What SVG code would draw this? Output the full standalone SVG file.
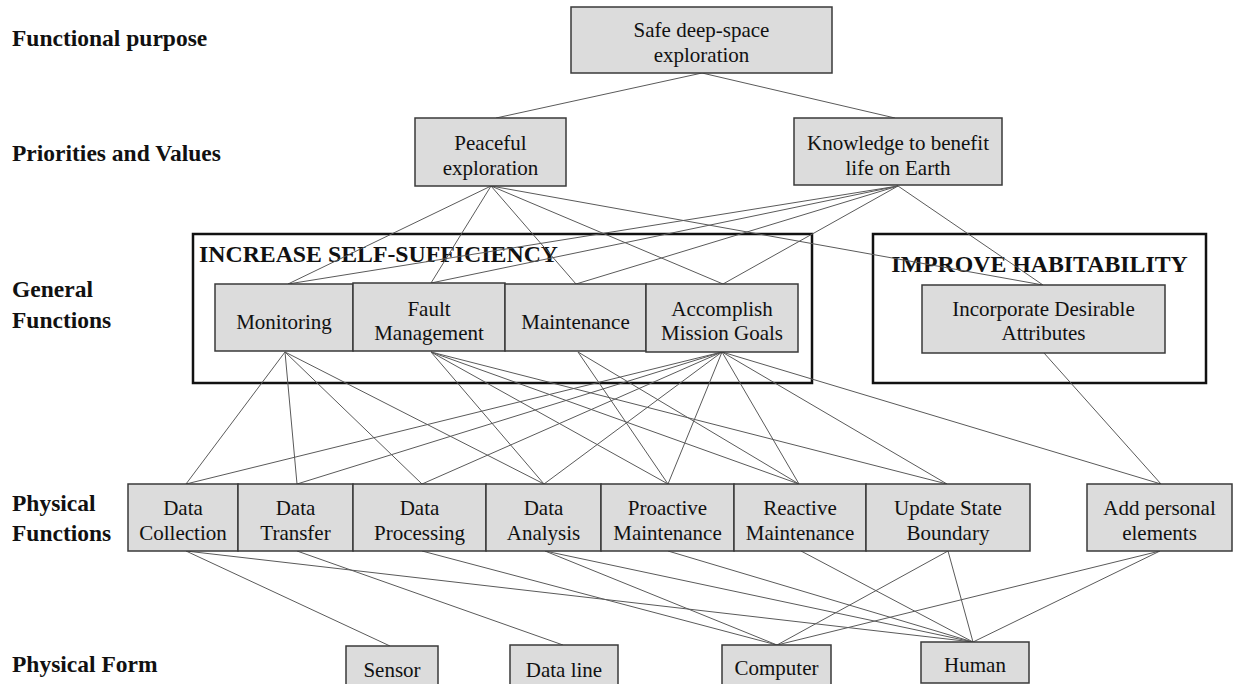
<svg xmlns="http://www.w3.org/2000/svg" width="1239" height="684" viewBox="0 0 1239 684">
  <style>
    .lvl { font-family: "Liberation Serif", "Times New Roman", serif; font-weight: bold; font-size: 23.5px; fill: #111; }
    .title { font-family: "Liberation Serif", "Times New Roman", serif; font-weight: bold; font-size: 23.8px; fill: #111; }
    .group { fill: #fff; stroke: #111; stroke-width: 2.5; }
    .box { fill: #dcdcdc; stroke: #3a3a3a; stroke-width: 1.5; }
    .lbl { font-family: "Liberation Serif", "Times New Roman", serif; font-size: 21px; fill: #111; text-anchor: middle; }
    .links line { stroke: #5a5a5a; stroke-width: 1; }
  </style>
  <rect width="1239" height="684" fill="#fff"/>

  <!-- abstraction level labels -->
  <g id="level-labels">
    <text class="lvl" x="12" y="46">Functional purpose</text>
    <text class="lvl" x="12" y="161">Priorities and Values</text>
    <text class="lvl" x="12" y="297">General</text>
    <text class="lvl" x="12" y="328">Functions</text>
    <text class="lvl" x="12" y="511">Physical</text>
    <text class="lvl" x="12" y="541">Functions</text>
    <text class="lvl" x="12" y="672">Physical Form</text>
  </g>

  <!-- grouping frames -->
  <g id="increase-self-sufficiency">
    <rect class="group" x="193" y="234" width="619" height="149"/>
    <text class="title" x="199" y="262">INCREASE SELF-SUFFICIENCY</text>
  </g>
  <g id="improve-habitability">
    <rect class="group" x="873" y="234" width="333" height="149"/>
    <text class="title" x="1039.5" y="272" text-anchor="middle">IMPROVE HABITABILITY</text>
  </g>

  <!-- connectors -->
  <g id="connectors" class="links">
    <!-- purpose to priorities -->
    <line x1="702" y1="73" x2="496" y2="118"/>
    <line x1="702" y1="73" x2="895" y2="118"/>
    <!-- priorities to general functions -->
    <line x1="491" y1="186" x2="288" y2="284"/>
    <line x1="491" y1="186" x2="431" y2="283"/>
    <line x1="491" y1="186" x2="576" y2="284"/>
    <line x1="491" y1="186" x2="723" y2="284"/>
    <line x1="491" y1="186" x2="1043" y2="285"/>
    <line x1="898" y1="186" x2="288" y2="284"/>
    <line x1="898" y1="186" x2="431" y2="283"/>
    <line x1="898" y1="186" x2="576" y2="284"/>
    <line x1="898" y1="186" x2="723" y2="284"/>
    <line x1="898" y1="186" x2="1043" y2="285"/>
    <!-- general functions to physical functions -->
    <line x1="285" y1="352" x2="186" y2="484"/>
    <line x1="285" y1="352" x2="297" y2="484"/>
    <line x1="285" y1="352" x2="422" y2="484"/>
    <line x1="285" y1="352" x2="544" y2="484"/>
    <line x1="431" y1="352" x2="544" y2="484"/>
    <line x1="431" y1="352" x2="668" y2="484"/>
    <line x1="431" y1="352" x2="799" y2="484"/>
    <line x1="431" y1="352" x2="947" y2="484"/>
    <line x1="578" y1="352" x2="668" y2="484"/>
    <line x1="578" y1="352" x2="799" y2="484"/>
    <line x1="722" y1="352" x2="186" y2="484"/>
    <line x1="722" y1="352" x2="297" y2="484"/>
    <line x1="722" y1="352" x2="422" y2="484"/>
    <line x1="722" y1="352" x2="544" y2="484"/>
    <line x1="722" y1="352" x2="668" y2="484"/>
    <line x1="722" y1="352" x2="799" y2="484"/>
    <line x1="722" y1="352" x2="947" y2="484"/>
    <line x1="722" y1="352" x2="1161" y2="484"/>
    <line x1="1044" y1="353" x2="1161" y2="484"/>
    <!-- physical functions to physical form -->
    <line x1="186" y1="551" x2="390" y2="646"/>
    <line x1="186" y1="551" x2="973" y2="642"/>
    <line x1="297" y1="551" x2="563" y2="645"/>
    <line x1="422" y1="551" x2="777" y2="645"/>
    <line x1="545" y1="551" x2="777" y2="645"/>
    <line x1="545" y1="551" x2="973" y2="642"/>
    <line x1="668" y1="551" x2="973" y2="642"/>
    <line x1="801" y1="551" x2="973" y2="642"/>
    <line x1="948" y1="551" x2="777" y2="645"/>
    <line x1="948" y1="551" x2="973" y2="642"/>
    <line x1="1160" y1="551" x2="777" y2="645"/>
    <line x1="1160" y1="551" x2="973" y2="642"/>
  </g>

  <!-- functional purpose -->
  <g id="safe-exploration">
    <rect class="box" x="571" y="7" width="261" height="66"/>
    <text class="lbl" x="701.5" y="37">Safe deep-space</text>
    <text class="lbl" x="701.5" y="62">exploration</text>
  </g>

  <!-- priorities and values -->
  <g id="peaceful-exploration">
    <rect class="box" x="415" y="118" width="151" height="68"/>
    <text class="lbl" x="490.5" y="150">Peaceful</text>
    <text class="lbl" x="490.5" y="175">exploration</text>
  </g>
  <g id="knowledge-benefit">
    <rect class="box" x="794" y="118" width="208" height="67"/>
    <text class="lbl" x="898" y="150">Knowledge to benefit</text>
    <text class="lbl" x="898" y="175">life on Earth</text>
  </g>

  <!-- general functions -->
  <g id="monitoring">
    <rect class="box" x="215" y="284" width="138" height="67"/>
    <text class="lbl" x="284" y="329">Monitoring</text>
  </g>
  <g id="fault-management">
    <rect class="box" x="353" y="283" width="152" height="68"/>
    <text class="lbl" x="429" y="316">Fault</text>
    <text class="lbl" x="429" y="340">Management</text>
  </g>
  <g id="maintenance">
    <rect class="box" x="505" y="284" width="141" height="67"/>
    <text class="lbl" x="575.5" y="329">Maintenance</text>
  </g>
  <g id="accomplish-goals">
    <rect class="box" x="646" y="284" width="152" height="68"/>
    <text class="lbl" x="722" y="316">Accomplish</text>
    <text class="lbl" x="722" y="340">Mission Goals</text>
  </g>
  <g id="desirable-attributes">
    <rect class="box" x="922" y="285" width="243" height="68"/>
    <text class="lbl" x="1043.5" y="316">Incorporate Desirable</text>
    <text class="lbl" x="1043.5" y="340">Attributes</text>
  </g>

  <!-- physical functions -->
  <g id="data-collection">
    <rect class="box" x="128" y="484" width="110" height="67"/>
    <text class="lbl" x="183" y="515">Data</text>
    <text class="lbl" x="183" y="540">Collection</text>
  </g>
  <g id="data-transfer">
    <rect class="box" x="238" y="484" width="115" height="67"/>
    <text class="lbl" x="295.5" y="515">Data</text>
    <text class="lbl" x="295.5" y="540">Transfer</text>
  </g>
  <g id="data-processing">
    <rect class="box" x="353" y="484" width="133" height="67"/>
    <text class="lbl" x="419.5" y="515">Data</text>
    <text class="lbl" x="419.5" y="540">Processing</text>
  </g>
  <g id="data-analysis">
    <rect class="box" x="486" y="484" width="115" height="67"/>
    <text class="lbl" x="543.5" y="515">Data</text>
    <text class="lbl" x="543.5" y="540">Analysis</text>
  </g>
  <g id="proactive-maintenance">
    <rect class="box" x="601" y="484" width="133" height="67"/>
    <text class="lbl" x="667.5" y="515">Proactive</text>
    <text class="lbl" x="667.5" y="540">Maintenance</text>
  </g>
  <g id="reactive-maintenance">
    <rect class="box" x="734" y="484" width="132" height="67"/>
    <text class="lbl" x="800" y="515">Reactive</text>
    <text class="lbl" x="800" y="540">Maintenance</text>
  </g>
  <g id="update-state-boundary">
    <rect class="box" x="866" y="484" width="164" height="67"/>
    <text class="lbl" x="948" y="515">Update State</text>
    <text class="lbl" x="948" y="540">Boundary</text>
  </g>
  <g id="personal-elements">
    <rect class="box" x="1087" y="484" width="145" height="67"/>
    <text class="lbl" x="1159.5" y="515">Add personal</text>
    <text class="lbl" x="1159.5" y="540">elements</text>
  </g>

  <!-- physical form -->
  <g id="sensor">
    <rect class="box" x="346" y="646" width="92" height="50"/>
    <text class="lbl" x="392" y="677">Sensor</text>
  </g>
  <g id="data-line">
    <rect class="box" x="510" y="645" width="108" height="50"/>
    <text class="lbl" x="564" y="677">Data line</text>
  </g>
  <g id="computer">
    <rect class="box" x="722" y="645" width="109" height="50"/>
    <text class="lbl" x="776.5" y="675">Computer</text>
  </g>
  <g id="human">
    <rect class="box" x="921" y="642" width="108" height="41"/>
    <text class="lbl" x="975" y="672">Human</text>
  </g>
</svg>
